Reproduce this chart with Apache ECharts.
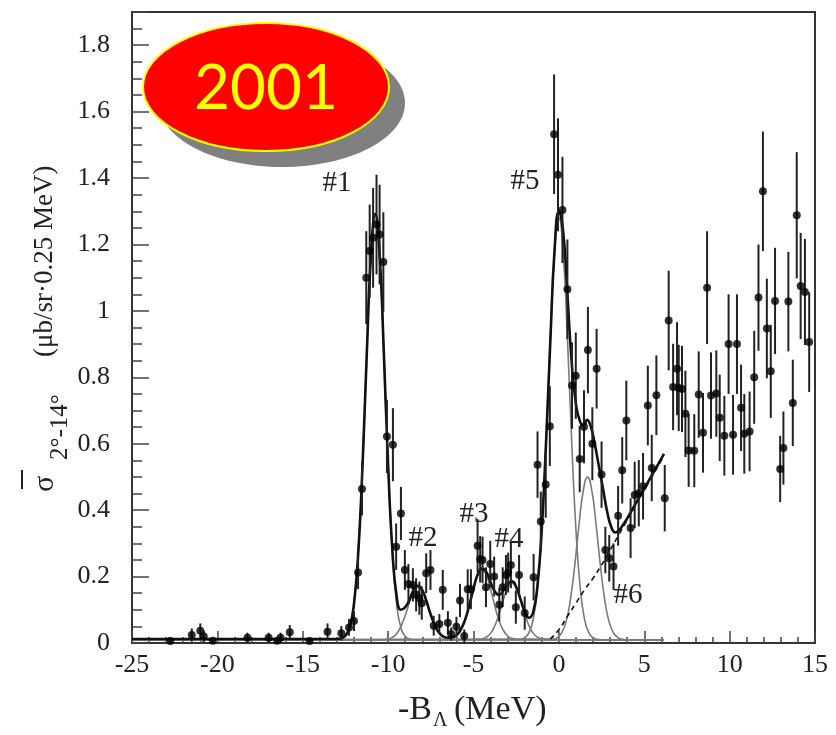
<!DOCTYPE html>
<html>
<head>
<meta charset="utf-8">
<script src="https://cdn.jsdelivr.net/npm/echarts@6/dist/echarts.min.js"></script>
<style>
  html, body { margin: 0; padding: 0; background: #fff; }
  #chart { width: 836px; height: 735px; }
</style>
</head>
<body>
<div id="chart"></div>
<script>
// measured points: -B_Lambda (MeV), cross section, error
const ptX = [-22.76, -21.5, -21.0, -20.8, -20.27, -18.24, -17.0, -16.5, -16.3, -15.76, -14.6, -13.55, -12.74, -12.29, -12.0,
  -11.76, -11.53, -11.28, -11.08, -10.88, -10.68, -10.5, -10.28, -10.07, -9.72, -9.53, -9.25, -9.02,
  -8.81, -8.55, -8.36, -8.17, -8.03, -7.77, -7.52, -7.33, -7.0, -6.8, -6.5, -6.31, -6.0, -5.79, -5.54, -5.34, -5.15,
  -4.76, -4.61, -4.47, -4.27, -4.02, -3.79, -3.49, -3.29, -3.1, -2.97, -2.81, -2.52, -2.33, -2.0, -1.48,
  -1.25, -1.06, -0.77, -0.53, -0.28, -0.05, 0.21, 0.5, 0.77, 0.99, 1.22, 1.47, 1.7, 1.96, 2.21, 2.5,
  2.72, 2.95, 3.2, 3.47, 3.71, 3.95, 4.2, 4.44, 4.68, 4.93, 5.21, 5.44, 5.71, 6.2, 6.43, 6.69, 6.92, 7.02,
  7.21, 7.41, 7.6, 7.93, 8.19, 8.44, 8.68, 8.91, 9.22, 9.42, 9.69, 9.94, 10.2, 10.43, 10.67, 10.86, 11.17,
  11.44, 11.69, 11.95, 12.18, 12.41, 12.66, 12.96, 13.15, 13.44, 13.7, 13.93, 14.16, 14.41, 14.66];
const ptY = [0.006, 0.024, 0.037, 0.02, 0.007, 0.016, 0.016, 0.007, 0.016, 0.032, 0.006, 0.034, 0.029, 0.047, 0.066,
  0.212, 0.464, 1.10, 1.18, 1.22, 1.26, 1.23, 1.147, 0.622, 0.597, 0.29, 0.39, 0.22,
  0.178, 0.175, 0.145, 0.135, 0.12, 0.21, 0.22, 0.052, 0.057, 0.16, 0.061, 0.027, 0.049, 0.128, 0.021, 0.162, 0.162,
  0.293, 0.252, 0.25, 0.168, 0.238, 0.2, 0.115, 0.168, 0.205, 0.212, 0.235, 0.108, 0.205, 0.09, 0.198,
  0.537, 0.366, 0.477, 0.653, 1.532, 1.41, 1.304, 1.065, 0.775, 0.805, 0.554, 0.651, 0.882, 0.60, 0.826, 0.507,
  0.28, 0.255, 0.23, 0.383, 0.52, 0.67, 0.346, 0.446, 0.451, 0.472, 0.715, 0.527, 0.746, 0.436, 0.971, 0.771, 0.826, 0.768,
  0.765, 0.69, 0.58, 0.579, 0.748, 0.633, 1.07, 0.745, 0.751, 0.678, 0.624, 0.9, 0.627, 0.9, 0.708, 0.63, 0.637,
  0.8, 1.04, 1.36, 0.947, 0.818, 1.03, 0.524, 0.587, 1.028, 0.723, 1.288, 1.075, 1.057, 0.906];
const ptErr = [0.01, 0.02, 0.022, 0.018, 0.01, 0.015, 0.015, 0.01, 0.015, 0.022, 0.01, 0.025, 0.022, 0.025, 0.03,
  0.05, 0.08, 0.14, 0.14, 0.15, 0.15, 0.15, 0.15, 0.11, 0.11, 0.07, 0.08, 0.06,
  0.06, 0.05, 0.05, 0.05, 0.05, 0.06, 0.06, 0.03, 0.03, 0.06, 0.035, 0.02, 0.03, 0.05, 0.02, 0.06, 0.06,
  0.08, 0.07, 0.07, 0.06, 0.07, 0.06, 0.05, 0.06, 0.06, 0.06, 0.07, 0.05, 0.06, 0.05, 0.07,
  0.1, 0.09, 0.1, 0.12, 0.18, 0.17, 0.16, 0.15, 0.13, 0.13, 0.1, 0.11, 0.13, 0.11, 0.12, 0.1,
  0.07, 0.07, 0.07, 0.09, 0.1, 0.12, 0.09, 0.1, 0.1, 0.1, 0.12, 0.1, 0.12, 0.1, 0.15, 0.13, 0.14, 0.13,
  0.13, 0.13, 0.11, 0.11, 0.13, 0.12, 0.17, 0.13, 0.13, 0.13, 0.12, 0.15, 0.12, 0.15, 0.13, 0.12, 0.12,
  0.14, 0.16, 0.18, 0.15, 0.14, 0.16, 0.1, 0.11, 0.15, 0.13, 0.19, 0.16, 0.16, 0.15];

// total fit (black)
const fitTotal = [[-25, 0.012], [-13, 0.012], [-12.75, 0.014], [-12.5, 0.022], [-12.25, 0.047], [-12, 0.118],
  [-11.75, 0.272], [-11.5, 0.534], [-11.25, 0.871], [-11, 1.17], [-10.75, 1.292], [-10.5, 1.17], [-10.25, 0.872],
  [-10, 0.536], [-9.75, 0.279], [-9.5, 0.14], [-9.25, 0.1], [-9, 0.108], [-8.75, 0.13], [-8.5, 0.16], [-8.25, 0.172],
  [-8, 0.159], [-7.75, 0.125], [-7.5, 0.085], [-7.25, 0.052], [-7, 0.03], [-6.75, 0.019], [-6.5, 0.016], [-6.25, 0.017],
  [-6, 0.023], [-5.75, 0.04], [-5.5, 0.069], [-5.25, 0.113], [-5, 0.164], [-4.75, 0.207], [-4.5, 0.224], [-4.25, 0.214],
  [-4, 0.183], [-3.75, 0.155], [-3.5, 0.145], [-3.25, 0.158], [-3, 0.178], [-2.75, 0.186], [-2.5, 0.169], [-2.25, 0.132],
  [-2, 0.096], [-1.75, 0.076], [-1.5, 0.094], [-1.25, 0.175], [-1, 0.345], [-0.75, 0.605], [-0.5, 0.91], [-0.25, 1.185],
  [0, 1.3], [0.25, 1.24], [0.5, 1.05], [0.75, 0.845], [1, 0.72], [1.25, 0.665], [1.45, 0.655], [1.65, 0.672],
  [1.85, 0.655], [2.1, 0.6], [2.35, 0.53], [2.6, 0.46], [2.85, 0.39], [3.1, 0.345], [3.3, 0.333], [3.5, 0.338],
  [3.75, 0.355], [4, 0.375], [4.5, 0.42], [5, 0.465], [5.5, 0.51], [6, 0.555], [6.15, 0.57]];

// single peaks (grey)
const peak1 = [[-25, 0.01], [-13, 0.01], [-12.75, 0.012], [-12.5, 0.02], [-12.25, 0.045], [-12, 0.116], [-11.75, 0.27],
  [-11.5, 0.532], [-11.25, 0.869], [-11, 1.168], [-10.75, 1.29], [-10.5, 1.168], [-10.25, 0.869], [-10, 0.532],
  [-9.75, 0.27], [-9.5, 0.116], [-9.25, 0.045], [-9, 0.02], [-8.75, 0.012], [-8.5, 0.01], [6.15, 0.01]];
const peak2 = [[-25, 0.01], [-10.25, 0.01], [-10, 0.012], [-9.75, 0.017], [-9.5, 0.028], [-9.25, 0.05], [-9, 0.083],
  [-8.75, 0.123], [-8.5, 0.157], [-8.25, 0.17], [-8, 0.157], [-7.75, 0.123], [-7.5, 0.083], [-7.25, 0.05], [-7, 0.028],
  [-6.75, 0.017], [-6.5, 0.012], [-6.25, 0.01], [6.15, 0.01]];
const peak3 = [[-25, 0.01], [-6.75, 0.01], [-6.5, 0.011], [-6.25, 0.014], [-6, 0.021], [-5.75, 0.038], [-5.5, 0.067],
  [-5.25, 0.111], [-5, 0.162], [-4.75, 0.204], [-4.5, 0.22], [-4.25, 0.204], [-4, 0.162], [-3.75, 0.111], [-3.5, 0.067],
  [-3.25, 0.038], [-3, 0.021], [-2.75, 0.014], [-2.5, 0.011], [-2.25, 0.01], [6.15, 0.01]];
const peak4 = [[-25, 0.01], [-5, 0.01], [-4.75, 0.011], [-4.5, 0.012], [-4.25, 0.018], [-4, 0.029], [-3.75, 0.052],
  [-3.5, 0.088], [-3.25, 0.13], [-3, 0.166], [-2.75, 0.18], [-2.5, 0.166], [-2.25, 0.13], [-2, 0.088], [-1.75, 0.052],
  [-1.5, 0.029], [-1.25, 0.018], [-1, 0.012], [-0.75, 0.011], [-0.5, 0.01], [6.15, 0.01]];
const peak5 = [[-25, 0.01], [-2.5, 0.01], [-2.25, 0.011], [-2, 0.016], [-1.75, 0.031], [-1.5, 0.072], [-1.25, 0.166],
  [-1, 0.341], [-0.75, 0.607], [-0.5, 0.918], [-0.25, 1.177], [0, 1.28], [0.25, 1.177], [0.5, 0.918], [0.75, 0.607],
  [1, 0.341], [1.25, 0.166], [1.5, 0.072], [1.75, 0.031], [2, 0.016], [2.25, 0.011], [2.5, 0.01], [6.15, 0.01]];
const peak6 = [[-25, 0.01], [-0.32, 0.012], [-0.07, 0.017], [0.18, 0.032], [0.43, 0.066], [0.68, 0.132], [0.93, 0.234],
  [1.18, 0.356], [1.43, 0.459], [1.68, 0.5], [1.93, 0.459], [2.18, 0.356], [2.43, 0.234], [2.68, 0.132], [2.93, 0.066],
  [3.18, 0.032], [3.43, 0.017], [3.68, 0.012], [3.93, 0.01], [6.15, 0.01]];
// background (dashed)
const background = [[-0.5, 0.012], [0, 0.04], [0.5, 0.08], [1, 0.12], [1.5, 0.16], [2, 0.195], [2.5, 0.235], [3, 0.28],
  [3.5, 0.325], [4, 0.37], [4.5, 0.415], [5, 0.46], [5.5, 0.505], [6, 0.55], [6.15, 0.565]];

const peakNames = ['#1', '#2', '#3', '#4', '#5', '#6'];

const serif = '"Liberation Serif", "DejaVu Serif", serif';
const chart = echarts.init(document.getElementById('chart'));

const greyLine = (data) => ({
    type: 'line', data: data, smooth: true, showSymbol: false, silent: true, z: 2,
    lineStyle: { color: '#7a7a7a', width: 1.6 }
});

const points = ptX.map((x, i) => [x, ptY[i]]);
const bars = ptX.map((x, i) => [x, ptY[i] - ptErr[i], ptY[i] + ptErr[i]]);

// label spots for peak names (pixels)
const namePos = [[337, 183], [423, 538], [474, 514], [509, 539], [525, 181], [628, 595]];

const option = {
    animation: false,
    grid: { left: 132, top: 12, right: 21, bottom: 92, show: true, borderColor: '#333', borderWidth: 2 },
    xAxis: {
        type: 'value', min: -25, max: 15, interval: 5,
        axisLine: { onZero: false, lineStyle: { color: '#333', width: 2 } },
        axisTick: { inside: true, length: 12, lineStyle: { color: '#444', width: 1.5 } },
        minorTick: { show: true, splitNumber: 5, length: 6, lineStyle: { color: '#444', width: 1.5 } },
        splitLine: { show: false },
        axisLabel: { fontFamily: serif, fontSize: 26, color: '#222', margin: 9 }
    },
    yAxis: {
        type: 'value', min: 0, max: 1.9, interval: 0.2,
        axisLine: { onZero: false, lineStyle: { color: '#333', width: 2 } },
        axisTick: { inside: true, length: 17, lineStyle: { color: '#444', width: 1.5 } },
        minorTick: { show: true, splitNumber: 4, length: 10, lineStyle: { color: '#444', width: 1.5 } },
        splitLine: { show: false },
        axisLabel: { fontFamily: serif, fontSize: 26, color: '#222', margin: 22, showMaxLabel: false }
    },
    series: [
        greyLine(peak1), greyLine(peak2), greyLine(peak3), greyLine(peak4), greyLine(peak5), greyLine(peak6),
        {
            type: 'line', data: background, smooth: true, showSymbol: false, silent: true, z: 3,
            lineStyle: { color: '#111', width: 1.6, type: [5, 4] }
        },
        {
            type: 'line', data: fitTotal, smooth: true, showSymbol: false, silent: true, z: 4,
            lineStyle: { color: '#111', width: 2.6 }
        },
        {
            type: 'custom', data: bars, z: 5, clip: true,
            encode: { x: 0, y: [1, 2] },
            renderItem: (params, api) => {
                const p1 = api.coord([api.value(0), api.value(1)]);
                const p2 = api.coord([api.value(0), api.value(2)]);
                return {
                    type: 'line',
                    shape: { x1: p1[0], y1: p1[1], x2: p2[0], y2: p2[1] },
                    style: { stroke: '#222', lineWidth: 2 }
                };
            }
        },
        {
            type: 'scatter', data: points, symbol: 'circle', symbolSize: 8, z: 6,
            itemStyle: { color: '#000' }
        }
    ],
    graphic: [
        // y axis title
        {
            type: 'group', x: 45, y: 492, rotation: Math.PI / 2, z: 50,
            children: [
                { type: 'text', x: 0, y: 0, style: { text: 'σ', font: '30px ' + serif, fill: '#222', align: 'left', verticalAlign: 'middle' } },
                { type: 'line', shape: { x1: 3, y1: -23, x2: 22, y2: -23 }, style: { stroke: '#222', lineWidth: 2 } },
                { type: 'text', x: 32, y: 15, style: { text: '2°-14°', font: '25px ' + serif, fill: '#222', align: 'left', verticalAlign: 'middle' } },
                { type: 'text', x: 135, y: 0, style: { text: '(μb/sr·0.25 MeV)', font: '27px ' + serif, fill: '#222', align: 'left', verticalAlign: 'middle' } }
            ]
        },
        // x axis title
        {
            type: 'group', x: 398, y: 710, z: 50,
            children: [
                { type: 'text', x: 0, y: 0, style: { text: '-B', font: '34px ' + serif, fill: '#222', align: 'left', verticalAlign: 'middle' } },
                { type: 'text', x: 35, y: 11, style: { text: 'Λ', font: '20px ' + serif, fill: '#222', align: 'left', verticalAlign: 'middle' } },
                { type: 'text', x: 56, y: 0, style: { text: '(MeV)', font: '34px ' + serif, fill: '#222', align: 'left', verticalAlign: 'middle' } }
            ]
        },
        // "2001" badge
        { type: 'ellipse', shape: { cx: 282, cy: 103, rx: 123, ry: 64 }, style: { fill: '#808080' }, z: 60 },
        { type: 'ellipse', shape: { cx: 266, cy: 87, rx: 123, ry: 64 }, style: { fill: '#ff0000', stroke: '#ffff00', lineWidth: 2 }, z: 61 },
        { type: 'text', x: 266, y: 89, z: 62, style: { text: '2001', font: '62px Lato, "DejaVu Sans", sans-serif', fill: '#ffff00', align: 'center', verticalAlign: 'middle' } }
    ].concat(peakNames.map((t, i) => ({
        type: 'text', x: namePos[i][0], y: namePos[i][1], z: 40,
        style: { text: t, font: '29px ' + serif, fill: '#222', align: 'center', verticalAlign: 'middle' }
    })))
};

chart.setOption(option);
</script>
</body>
</html>
